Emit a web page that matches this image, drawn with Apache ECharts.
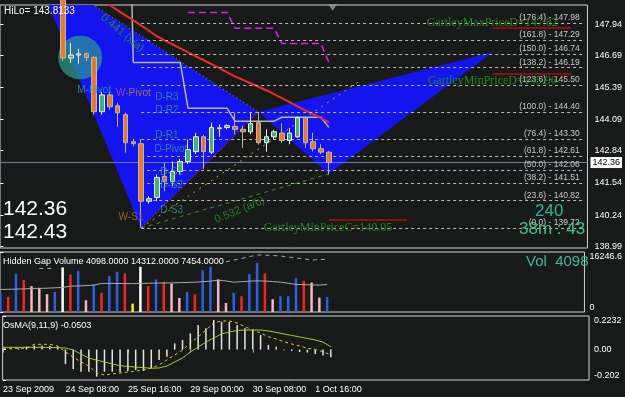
<!DOCTYPE html>
<html>
<head>
<meta charset="utf-8">
<script src="https://cdn.jsdelivr.net/npm/echarts@6/dist/echarts.min.js"></script>
<style>
html, body { margin: 0; padding: 0; background: #181a19; }
#chart { width: 625px; height: 397px; }
</style>
</head>
<body>
<div id="chart"></div>
<script>
// bar index on x, 4h bars (240 min)
var timeTicks = [0, 8, 16, 24, 32, 40]
var timeLabels = ['23 Sep 2009', '24 Sep 08:00', '25 Sep 16:00', '29 Sep 00:00', '30 Sep 08:00', '1 Oct 16:00']

// [open, close, low, high]
var candles = [
  [150.10, 149.85, 149.70, 150.30], [149.85, 150.05, 149.70, 150.20], [150.05, 149.90, 149.75, 150.25],
  [149.90, 150.20, 149.80, 150.35], [150.20, 150.05, 149.90, 150.42], [150.05, 149.70, 149.55, 150.15],
  [149.70, 149.60, 149.40, 149.85], [149.60, 149.30, 149.10, 149.70], [149.30, 146.58, 146.45, 149.40],
  [146.58, 146.70, 146.38, 147.18], [146.70, 146.75, 146.35, 146.95], [146.75, 146.60, 146.45, 146.80],
  [146.60, 144.41, 144.29, 146.65], [144.41, 145.09, 144.29, 145.21], [145.09, 144.61, 144.50, 145.21],
  [144.65, 144.37, 143.81, 144.78], [144.29, 143.16, 142.76, 144.37], [143.20, 143.12, 143.00, 143.32],
  [143.12, 140.80, 139.72, 143.30], [140.80, 140.90, 140.70, 141.00], [140.95, 141.76, 140.80, 141.88],
  [141.80, 141.60, 141.20, 142.36], [141.60, 142.00, 141.40, 142.40], [142.00, 142.40, 141.90, 142.50],
  [142.40, 142.88, 142.30, 143.28], [142.80, 143.40, 142.70, 143.56], [143.40, 142.80, 142.10, 143.48],
  [142.78, 143.77, 142.70, 143.97], [143.73, 143.76, 143.40, 143.90], [143.77, 143.85, 143.70, 143.90],
  [143.82, 143.70, 143.50, 144.37], [143.70, 143.60, 142.95, 143.85], [143.60, 143.93, 143.50, 144.37],
  [143.97, 143.16, 143.08, 144.40], [143.16, 143.40, 142.80, 143.70], [143.40, 143.60, 143.30, 143.68],
  [143.55, 143.25, 143.15, 143.95], [143.25, 143.55, 143.10, 143.75], [143.40, 144.17, 143.35, 144.22],
  [144.17, 143.16, 142.96, 144.22], [143.20, 142.92, 142.80, 143.56], [142.92, 142.78, 142.70, 143.10],
  [142.78, 142.36, 141.88, 142.83]
]
var bidPrice = 142.36

var redMA = [null, null, null, null, null, null, null, null, null, null, null, null,
  149.12, 148.92, 148.71, 148.50, 148.30, 148.10, 147.90, 147.68, 147.46, 147.29, 147.13, 146.97,
  146.81, 146.65, 146.49, 146.33, 146.17, 146.00, 145.84, 145.70, 145.56, 145.42, 145.28, 145.12,
  144.96, 144.80, 144.63, 144.47, 144.31, 144.15, 143.99]
var grayStep = [null, null, null, null, null, null, null, null, null, null, null, null, null, null, null, null,
  160.0, 146.40, 146.40, 146.40, 146.40, 146.40, 146.40, 146.40,
  144.55, 144.55, 144.55, 144.55, 144.55, 144.55, 144.03, 144.03, 144.03, 144.03, 144.03, 144.03,
  144.19, 144.19, 144.19, 144.19, 144.19, 144.19, 143.78]
var magentaStep = [null, null, null, null, null, null, null, null, null, null, null, null, null, null, null, null,
  null, null, null, null, null, null, null, null,
  148.42, 148.42, 148.42, 148.42, 148.42, 148.42, 147.78, 147.78, 147.78, 147.78, 147.78, 147.78,
  147.17, 147.17, 147.17, 147.17, 147.17, 147.17, 146.41]

// Gartley points [bar, price]
var ptX = [4, 150.33], ptA = [18, 139.72], ptB = [33, 144.40], ptC = [42, 141.90], ptD = [63, 146.82]
var triangles = [[ptX, ptA, ptB], [ptB, ptC, ptD]]
var yellowRay = [[18, 139.72], [46, 145.66]]

var fibRatios = ['176.4', '161.8', '150.0', '138.2', '123.6', '100.0', '76.4', '61.8', '50.0', '38.2', '23.6', '0.0']
var fibPrices = [147.98, 147.29, 146.74, 146.19, 145.50, 144.40, 143.30, 142.61, 142.06, 141.51, 140.82, 139.72]

var gartleyNames = ['GartleyMaxPriceD=147.82', 'GartleyMinPriceD=145.96', 'GartleyMinPriceC=140.05']
var gartleyPrices = [147.82, 145.96, 140.05]
var gartleyFrom = [63, 63, 42]
var gartleyTo = [73, 73, 52]

// ratio labels on the legs: [bar, price, text]
var legLabels = [[15.6, 147.59, '0.441 (x/a)'], [30.6, 140.44, '0.532 (a/b)']]

// pivot labels: [bar, price, name]
var pivotLabels = [
  [21.3, 145.00, 'D-R3'], [21.3, 144.48, 'D-R2'], [21.3, 143.47, 'D-R1'], [21.8, 142.91, 'D-Pivot'],
  [21.9, 141.98, 'D-S1'], [21.9, 141.45, 'D-S2'], [21.9, 140.44, 'D-S3'], [16.7, 140.16, 'W-S1'],
  [12.0, 145.29, 'M-Pivot'], [17.0, 145.17, 'W-Pivot']
]
var pivotColors = { D: '#3a9c8e', W: '#a07a3c', M: '#2f9ec0' }

var priceTicks = [138.99, 140.24, 141.54, 142.84, 144.09, 145.39, 146.69, 147.94]

// Hidden Gap Volume
var volume = [5160, 4080, 10260, 8620, 6990, 6530, 4820, 5440, 12070, 10170, 11150, 3190, 7530, 5170,
  9720, 10890, 10440, 2280, 12240, 6990, 8810, 8160, 7730, 3810, 5440, 4820, 11350, 12240, 8810,
  2450, 5170, 4270, 10260, 13330, 10440, 3450, 4270, 4270, 9250, 8440, 7990, 3910, 4098]
var volType = ['b', 'r', 'b', 'r', 'p', 'p', 'p', 'b', 'w', 'r', 'b', 'p', 'b', 'r', 'b', 'b', 'r', 'y',
  'w', 'r', 'b', 'r', 'p', 'p', 'b', 'r', 'b', 'b', 'p', 'p', 'b', 'r', 'b', 'b', 'r', 'p', 'b', 'b',
  'b', 'r', 'p', 'p', 'b']
var volMA = [6100, 6150, 6200, 6250, 6370, 6400, 6450, 6550, 6640, 6990, 7050, 7150, 7270, 7730, 7750,
  7720, 7700, 7680, 7730, 7780, 7820, 7860, 7890, 7950, 8000, 8080, 8200, 8350, 8630, 8400, 8080, 8200,
  8350, 8440, 8380, 8250, 8080, 7800, 7460, 7400, 7350, 7270, 7454]
var volUpper = [null, null, null, null, null, 11800, 11800, 11750, null, null, null, null, null, null,
  null, null, null, null, null, null, null, null, null, null, null, null, null, null, null,
  13600, 14070, 14500, 15000, 15430, 15400, 15300, 15160, 14900, 14620, 14400, 14070, 14200, 14312]
var volTicks = [0, 16246.6]

// OsMA(9,11,9)
var osma = [0.005, 0.006, 0.008, 0.02, 0.027, 0.027, 0.025, 0.02, -0.096, -0.129, -0.147, -0.147, -0.18,
  -0.147, -0.147, -0.151, -0.142, -0.136, -0.142, -0.124, -0.069, -0.047, 0.042, 0.064, 0.108, 0.163,
  0.142, 0.197, 0.185, 0.185, 0.163, 0.142, 0.13, 0.097, 0.031, 0.019, -0.005, -0.01, -0.015, -0.02,
  -0.03, -0.04, -0.0503]
var osmaSignal = [0.015, 0.015, 0.015, 0.015, 0.015, 0.015, 0.014, 0.013, 0.011, -0.003, -0.03, -0.056,
  -0.07, -0.082, -0.095, -0.107, -0.112, -0.116, -0.12, -0.124, -0.122, -0.109, -0.082, -0.056, -0.016,
  0.017, 0.05, 0.077, 0.104, 0.117, 0.127, 0.13, 0.13, 0.13, 0.124, 0.114, 0.104, 0.094, 0.084, 0.074,
  0.064, 0.05, 0.019]
var osmaLine = [0.009, 0.009, 0.009, 0.009, 0.035, 0.035, 0.035, 0.024, -0.016, -0.05, -0.082, -0.109,
  -0.155, -0.169, -0.162, -0.155, -0.149, -0.142, -0.136, -0.122, -0.102, -0.069, -0.036, -0.003, 0.044,
  0.084, 0.13, 0.177, 0.19, 0.19, 0.177, 0.152, 0.13, 0.11, 0.086, 0.07, 0.052, 0.037, 0.024, 0.009,
  0.001, -0.014, -0.036]
var osmaTicks = [-0.202, 0, 0.2232]

var volColors = { b: '#2f5fe0', r: '#ee2626', p: '#f2b6c4', w: '#ffffff', y: '#f0f020' }

function withIndex(arr) {
  return arr.map(function (v, i) { return [i, v] })
}

var priceMin = 138.91, priceMax = 148.72

// cut a polygon at the top of the price panel (in data space)
function clipTop(pts, yMax) {
  var out = []
  for (var i = 0; i < pts.length; i++) {
    var p = pts[i], q = pts[(i + 1) % pts.length]
    var pin = p[1] <= yMax, qin = q[1] <= yMax
    if (pin) out.push(p)
    if (pin !== qin) {
      var t = (yMax - p[1]) / (q[1] - p[1])
      out.push([p[0] + t * (q[0] - p[0]), yMax])
    }
  }
  return out
}

var chart = echarts.init(document.getElementById('chart'))

var xMin = -0.05, xMax = 75.08
var baseX = {
  type: 'value', min: xMin, max: xMax,
  axisLine: { show: false }, axisTick: { show: false }, axisLabel: { show: false }, splitLine: { show: false }
}
var font = 'Liberation Sans, Arial, sans-serif'
var serif = 'Liberation Serif, DejaVu Serif, serif'

var option = {
  backgroundColor: '#181a19',
  animation: false,
  textStyle: { fontFamily: font },
  title: [
    { text: 'HiLo= 143.8133', left: 4, top: 6, padding: 0, textStyle: { color: '#fff', fontSize: 10, fontWeight: 'normal', fontFamily: font } },
    { text: '142.36', left: 3, top: 199, padding: 0, textStyle: { color: '#fff', fontSize: 21, fontWeight: 'normal', fontFamily: font } },
    { text: '142.43', left: 3, top: 222, padding: 0, textStyle: { color: '#fff', fontSize: 21, fontWeight: 'normal', fontFamily: font } },
    { text: '240', left: 535, top: 203, padding: 0, textStyle: { color: '#2fb0a0', fontSize: 17, fontWeight: 'normal', fontFamily: font } },
    { text: '38m : 43', left: 519, top: 221, padding: 0, textStyle: { color: '#45c084', fontSize: 17, fontWeight: 'normal', fontFamily: font } },
    { text: 'Hidden Gap Volume 4098.0000 14312.0000 7454.0000', left: 3, top: 257, padding: 0, textStyle: { color: '#fff', fontSize: 9, fontWeight: 'normal', fontFamily: font } },
    { text: 'Vol  4098', left: 526, top: 254, padding: 0, textStyle: { color: '#3fb898', fontSize: 15, fontWeight: 'normal', fontFamily: font } },
    { text: 'OsMA(9,11,9) -0.0503', left: 3, top: 321, padding: 0, textStyle: { color: '#fff', fontSize: 9, fontWeight: 'normal', fontFamily: font } }
  ],
  grid: [
    { left: 0, right: 36, top: 5, height: 243, show: true, borderColor: '#d0d0d0', borderWidth: 1, backgroundColor: 'transparent' },
    { left: 0, right: 36, top: 252, height: 60, show: true, borderColor: '#d0d0d0', borderWidth: 1, backgroundColor: 'transparent' },
    { left: 0, right: 36, top: 316, height: 64, show: true, borderColor: '#d0d0d0', borderWidth: 1, backgroundColor: 'transparent' }
  ],
  xAxis: [
    Object.assign({ gridIndex: 0 }, baseX),
    Object.assign({ gridIndex: 1 }, baseX),
    Object.assign({}, baseX, {
      gridIndex: 2,
      axisTick: { show: true, customValues: timeTicks, length: 3, lineStyle: { color: '#aaa' } },
      axisLabel: {
        show: true, customValues: timeTicks, color: '#fff', fontSize: 9, align: 'left', margin: 5,
        formatter: function (v) { return timeLabels[timeTicks.indexOf(Math.round(v))] || '' }
      }
    })
  ],
  yAxis: [
    {
      gridIndex: 0, type: 'value', position: 'right', min: priceMin, max: priceMax,
      splitLine: { show: false }, axisLine: { show: false },
      axisTick: { show: true, customValues: priceTicks, length: 3, lineStyle: { color: '#fff' } },
      axisLabel: { customValues: priceTicks, color: '#fff', fontSize: 9, margin: 7,
        formatter: function (v) { return v.toFixed(2) } }
    },
    {
      gridIndex: 1, type: 'value', position: 'right', min: 0, max: 16246.6,
      splitLine: { show: false }, axisLine: { show: false },
      axisTick: { show: true, customValues: volTicks, length: 3, lineStyle: { color: '#fff' } },
      axisLabel: { customValues: volTicks, color: '#fff', fontSize: 9, margin: 5,
        verticalAlignMinLabel: 'bottom', verticalAlignMaxLabel: 'top',
        formatter: function (v) { return v === 0 ? '0' : '16246.6' } }
    },
    {
      gridIndex: 2, type: 'value', position: 'right', min: -0.202, max: 0.2232,
      splitLine: { show: false }, axisLine: { show: false },
      axisTick: { show: true, customValues: osmaTicks, length: 3, lineStyle: { color: '#fff' } },
      axisLabel: { customValues: osmaTicks, color: '#fff', fontSize: 9, margin: 5,
        verticalAlignMinLabel: 'bottom', verticalAlignMaxLabel: 'top',
        formatter: function (v) { return v === 0 ? '0.00' : String(v) } }
    }
  ],
  series: [
    {
      // Gartley XAB / BCD triangles
      type: 'custom', xAxisIndex: 0, yAxisIndex: 0, z: 1, silent: true, clip: true,
      data: triangles.map(function (t, i) { return [t[1][0], t[1][1], i] }),
      renderItem: function (params, api) {
        var tri = clipTop(triangles[params.dataIndex], priceMax + 0.05)
        return {
          type: 'polygon',
          shape: { points: tri.map(function (p) { return api.coord(p) }) },
          style: { fill: '#1414ee' }
        }
      }
    },
    {
      // fib levels
      type: 'line', xAxisIndex: 0, yAxisIndex: 0, data: [], z: 2, silent: true,
      markLine: {
        symbol: ['none', 'none'], silent: true, animation: false,
        lineStyle: { color: '#b8b8b8', type: [3, 3], width: 1 },
        label: { position: 'insideEndTop', color: '#c8c8c8', fontSize: 8.5, distance: [4, 1] },
        data: fibPrices.map(function (p, i) {
          return [
            { coord: [18, p], label: { formatter: '(' + fibRatios[i] + ') - ' + p.toFixed(2) } },
            { coord: [74.6, p] }
          ]
        })
      }
    },
    {
      type: 'scatter', xAxisIndex: 0, yAxisIndex: 0, z: 3, silent: true,
      symbolSize: 44, itemStyle: { color: 'rgba(46,160,140,0.85)' },
      data: [[10.2, 146.6]]
    },
    {
      // X-B leg
      type: 'line', xAxisIndex: 0, yAxisIndex: 0, z: 3, symbol: 'none', silent: true,
      lineStyle: { color: '#a0a020', width: 1, type: [1, 3] },
      data: [ptX, ptB]
    },
    {
      // A-B leg
      type: 'line', xAxisIndex: 0, yAxisIndex: 0, z: 3, symbol: 'none', silent: true,
      lineStyle: { color: '#c0206a', width: 1, type: [2, 2] },
      data: [ptA, ptB]
    },
    {
      // A-C leg
      type: 'line', xAxisIndex: 0, yAxisIndex: 0, z: 3, symbol: 'none', silent: true,
      lineStyle: { color: '#22a022', width: 1, type: [4, 4] },
      data: [ptA, ptC]
    },
    {
      type: 'line', xAxisIndex: 0, yAxisIndex: 0, z: 3, symbol: 'none', silent: true,
      lineStyle: { color: '#c8b020', width: 1, type: [2, 5] },
      data: yellowRay
    },
    {
      type: 'line', xAxisIndex: 0, yAxisIndex: 0, z: 4, symbol: 'none', silent: true,
      lineStyle: { color: '#b8b8b8', width: 1.5 },
      data: withIndex(grayStep)
    },
    {
      type: 'line', xAxisIndex: 0, yAxisIndex: 0, z: 4, symbol: 'none', silent: true,
      lineStyle: { color: '#dd22dd', width: 1.5, type: [7, 4] },
      data: withIndex(magentaStep)
    },
    {
      type: 'line', xAxisIndex: 0, yAxisIndex: 0, z: 4, symbol: 'none', silent: true,
      lineStyle: { color: '#ee2a2a', width: 2 },
      data: withIndex(redMA)
    },
    {
      // Gartley price limits
      type: 'line', xAxisIndex: 0, yAxisIndex: 0, data: [], z: 4, silent: true,
      markLine: {
        symbol: ['none', 'none'], silent: true, animation: false,
        lineStyle: { color: '#8a1010', type: 'solid', width: 2 },
        label: { show: false },
        data: gartleyPrices.map(function (p, i) {
          return [{ coord: [gartleyFrom[i], p] }, { coord: [gartleyTo[i], p] }]
        })
      }
    },
    {
      type: 'scatter', xAxisIndex: 0, yAxisIndex: 0, z: 6, silent: true, symbolSize: 0,
      label: { show: true, position: 'inside', fontFamily: serif, fontSize: 12, color: '#22a022',
        formatter: function (p) { return p.value[2] } },
      data: gartleyNames.map(function (n, i) {
        var up = i === 0
        return [gartleyFrom[i] - 0.1, gartleyPrices[i] + (up ? 0.17 : -0.32), n]
      })
    },
    {
      type: 'scatter', xAxisIndex: 0, yAxisIndex: 0, z: 6, silent: true, symbolSize: 0,
      label: { show: true, position: 'inside', fontFamily: font, fontSize: 11, color: '#22a022',
        formatter: function (p) { return p.value[2] } },
      data: legLabels.map(function (d, i) {
        return { value: d, label: { rotate: i === 0 ? -40 : 22 } }
      })
    },
    {
      type: 'scatter', xAxisIndex: 0, yAxisIndex: 0, z: 6, silent: true, symbolSize: 0,
      label: {
        show: true, position: 'inside', fontSize: 10,
        rich: { w: { color: '#a05aa0', fontSize: 10 }, o: { color: '#d08a30', fontSize: 10 } },
        formatter: function (p) {
          var n = p.value[2]
          if (n === 'W-Pivot') return '{w|W-}{o|Pivot}'
          return n
        }
      },
      data: pivotLabels.map(function (d) {
        return { value: d, label: { color: pivotColors[d[2].charAt(0)] } }
      })
    },
    {
      type: 'candlestick', xAxisIndex: 0, yAxisIndex: 0, z: 5, barWidth: 5, clip: true,
      itemStyle: { color: '#3fb27f', color0: '#e8782a', borderColor: '#f0f0f0', borderColor0: '#b8b8b8', borderWidth: 1 },
      data: candles.map(function (c, i) { return [i].concat(c) }),
      encode: { x: 0, y: [1, 2, 3, 4] },
      markLine: {
        symbol: ['none', 'none'], silent: true, animation: false,
        lineStyle: { color: '#6a7cb0', type: 'solid', width: 1 },
        label: { position: 'end', formatter: bidPrice.toFixed(2), backgroundColor: '#fff', color: '#000',
          fontSize: 9, padding: [1, 2], distance: 3 },
        data: [{ yAxis: bidPrice }]
      }
    },
    {
      type: 'scatter', xAxisIndex: 0, yAxisIndex: 0, z: 6, silent: true,
      symbol: 'triangle', symbolRotate: 180, symbolSize: [9, 6], itemStyle: { color: '#9aa0a8' },
      data: [[42.5, 148.62]]
    },
    // volume panel
    {
      type: 'bar', xAxisIndex: 1, yAxisIndex: 1, barWidth: 2.5, silent: true,
      data: volume.map(function (v, i) {
        return { value: [i, v], itemStyle: { color: volColors[volType[i]] } }
      })
    },
    {
      type: 'line', xAxisIndex: 1, yAxisIndex: 1, symbol: 'none', silent: true, z: 3,
      lineStyle: { color: '#a8a8a8', width: 1 },
      data: withIndex(volMA)
    },
    {
      type: 'line', xAxisIndex: 1, yAxisIndex: 1, symbol: 'none', silent: true, z: 3,
      lineStyle: { color: '#a8a8a8', width: 1, type: [4, 4] },
      data: withIndex(volUpper)
    },
    // OsMA panel
    {
      type: 'bar', xAxisIndex: 2, yAxisIndex: 2, barWidth: 1.5, silent: true,
      itemStyle: { color: '#e4e4e4' },
      data: withIndex(osma)
    },
    {
      type: 'line', xAxisIndex: 2, yAxisIndex: 2, symbol: 'none', silent: true, z: 3,
      lineStyle: { color: '#9acd32', width: 1 },
      data: withIndex(osmaSignal)
    },
    {
      type: 'line', xAxisIndex: 2, yAxisIndex: 2, symbol: 'none', silent: true, z: 3,
      lineStyle: { color: '#e8c020', width: 1, type: [3, 3] },
      data: withIndex(osmaLine)
    }
  ]
}

chart.setOption(option)
</script>
</body>
</html>
